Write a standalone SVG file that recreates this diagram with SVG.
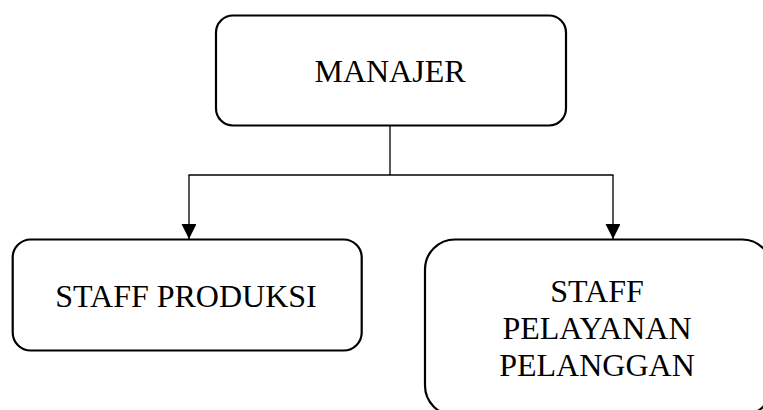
<svg xmlns="http://www.w3.org/2000/svg" width="763" height="410" viewBox="0 0 763 410">
  <style>
    .box { fill: #ffffff; stroke: #000000; stroke-width: 2.2; }
    .lbl { font-family: "Liberation Serif", "Times New Roman", serif; font-size: 32px; fill: #000000; text-anchor: middle; }
    .conn { fill: none; stroke: #000000; stroke-width: 1.3; }
  </style>
  <defs>
    <marker id="arrow" markerUnits="userSpaceOnUse" markerWidth="16" markerHeight="16" viewBox="0 0 14 15" refX="14" refY="7" orient="auto">
      <path d="M0,0 L14,7 L0,14 Z" fill="#000000"/>
    </marker>
  </defs>
  <rect width="763" height="410" fill="#ffffff"/>
  <g id="connectors">
    <line class="conn" x1="390" y1="126" x2="390" y2="175"/>
    <line class="conn" x1="188.5" y1="175" x2="613.5" y2="175"/>
    <line class="conn" x1="189" y1="175" x2="189" y2="239" marker-end="url(#arrow)"/>
    <line class="conn" x1="613" y1="175" x2="613" y2="239" marker-end="url(#arrow)"/>
  </g>
  <g id="manajer">
    <rect class="box" x="216" y="15.5" width="350" height="110" rx="17" ry="17"/>
    <text class="lbl" x="390" y="82">MANAJER</text>
  </g>
  <g id="staff-produksi">
    <rect class="box" x="12.7" y="239.5" width="349" height="111" rx="18" ry="18"/>
    <text class="lbl" x="186" y="307">STAFF PRODUKSI</text>
  </g>
  <g id="staff-pelayanan">
    <rect class="box" x="425" y="239.5" width="347" height="176" rx="30" ry="30"/>
    <text class="lbl" x="597" y="302">STAFF</text>
    <text class="lbl" x="597" y="339">PELAYANAN</text>
    <text class="lbl" x="597" y="376">PELANGGAN</text>
  </g>
</svg>
